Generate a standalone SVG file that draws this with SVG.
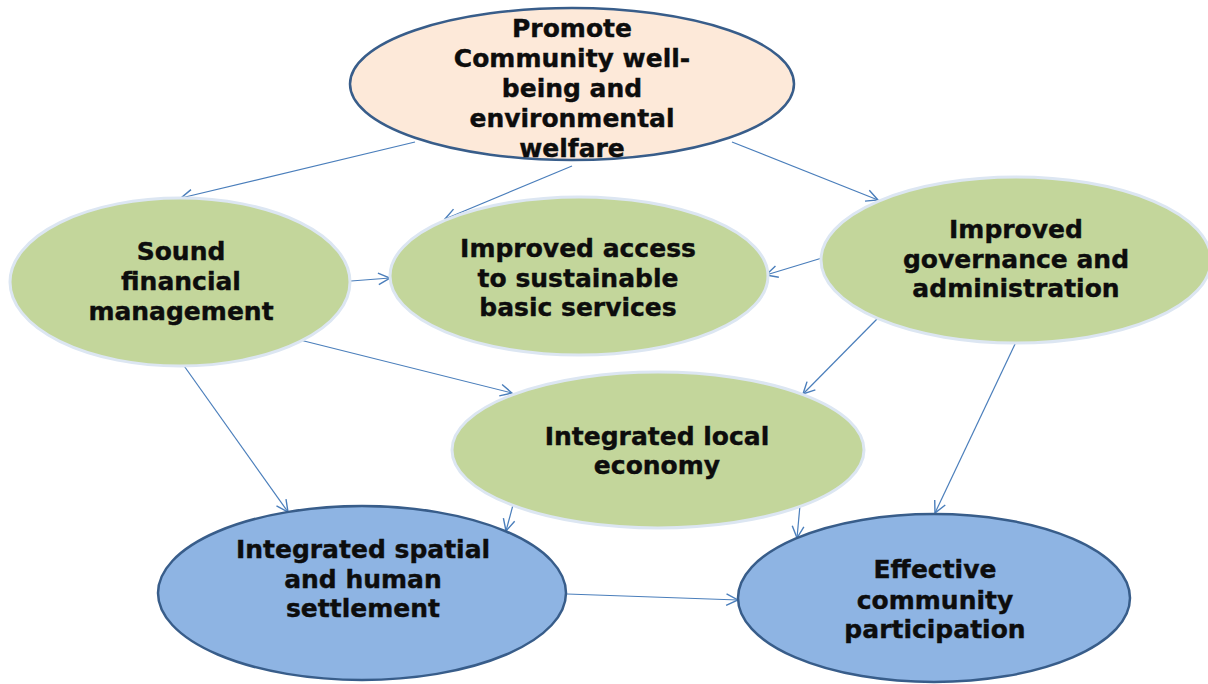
<svg xmlns="http://www.w3.org/2000/svg" width="1208" height="684" viewBox="0 0 1208 684">
  <style>
    .lbl { font-family: "DejaVu Sans", "Liberation Sans", sans-serif; font-weight: bold; font-size: 25px; fill: #0d0d0d; stroke: #0d0d0d; stroke-width: 0.4; text-anchor: middle; }
    .goal { fill: #FDE9D9; stroke: #385D8A; stroke-width: 2.5; }
    .mid { fill: #C3D69B; stroke: #DCE6F2; stroke-width: 3; }
    .out { fill: #8EB4E3; stroke: #385D8A; stroke-width: 2.5; }
    .link { stroke: #4A7EBB; stroke-width: 1.2; fill: none; marker-end: url(#arrow); }
  </style>
  <defs>
    <marker id="arrow" markerUnits="userSpaceOnUse" markerWidth="14" markerHeight="14" viewBox="0 0 12 12" refX="11" refY="6" orient="auto">
      <path d="M1,1 L11,6 L1,11" fill="none" stroke="#4A7EBB" stroke-width="1.2"/>
    </marker>
  </defs>
  <rect width="1208" height="684" fill="#ffffff"/>

  <!-- connectors -->
  <g id="connectors">
    <line class="link" x1="415" y1="142" x2="181" y2="198"/>
    <line class="link" x1="572" y1="166" x2="445" y2="219"/>
    <line class="link" x1="732" y1="142" x2="878" y2="200"/>
    <line class="link" x1="351" y1="281" x2="390" y2="278"/>
    <line class="link" x1="822" y1="258" x2="766" y2="275"/>
    <line class="link" x1="300" y1="340" x2="512" y2="393"/>
    <line class="link" x1="878" y1="318" x2="803" y2="394"/>
    <line class="link" x1="182" y1="363" x2="288" y2="512"/>
    <line class="link" x1="513" y1="505" x2="506" y2="531"/>
    <line class="link" x1="800" y1="505" x2="797" y2="538"/>
    <line class="link" x1="1016" y1="342" x2="935" y2="513"/>
    <line class="link" x1="567" y1="594" x2="738" y2="600"/>
  </g>

  <g id="node-wellbeing">
    <ellipse class="goal" cx="572" cy="84" rx="222" ry="76"/>
    <text class="lbl" x="572" y="37">Promote</text>
    <text class="lbl" x="572" y="67">Community well-</text>
    <text class="lbl" x="572" y="97">being and</text>
    <text class="lbl" x="572" y="127">environmental</text>
    <text class="lbl" x="572" y="157">welfare</text>
  </g>

  <g id="node-financial">
    <ellipse class="mid" cx="180" cy="282" rx="170" ry="84"/>
    <text class="lbl" x="181" y="260">Sound</text>
    <text class="lbl" x="181" y="290">financial</text>
    <text class="lbl" x="181" y="320">management</text>
  </g>

  <g id="node-services">
    <ellipse class="mid" cx="579" cy="276" rx="189" ry="79"/>
    <text class="lbl" x="578" y="257">Improved access</text>
    <text class="lbl" x="578" y="287">to sustainable</text>
    <text class="lbl" x="578" y="316">basic services</text>
  </g>

  <g id="node-governance">
    <ellipse class="mid" cx="1016" cy="260" rx="195" ry="83"/>
    <text class="lbl" x="1016" y="238">Improved</text>
    <text class="lbl" x="1016" y="268">governance and</text>
    <text class="lbl" x="1016" y="297">administration</text>
  </g>

  <g id="node-economy">
    <ellipse class="mid" cx="658" cy="450" rx="206" ry="78"/>
    <text class="lbl" x="657" y="445">Integrated local</text>
    <text class="lbl" x="657" y="474">economy</text>
  </g>

  <g id="node-spatial">
    <ellipse class="out" cx="362" cy="593" rx="204" ry="87"/>
    <text class="lbl" x="363" y="558">Integrated spatial</text>
    <text class="lbl" x="363" y="588">and human</text>
    <text class="lbl" x="363" y="617">settlement</text>
  </g>

  <g id="node-participation">
    <ellipse class="out" cx="934" cy="598" rx="196" ry="84"/>
    <text class="lbl" x="935" y="578">Effective</text>
    <text class="lbl" x="935" y="609">community</text>
    <text class="lbl" x="935" y="638">participation</text>
  </g>
</svg>
